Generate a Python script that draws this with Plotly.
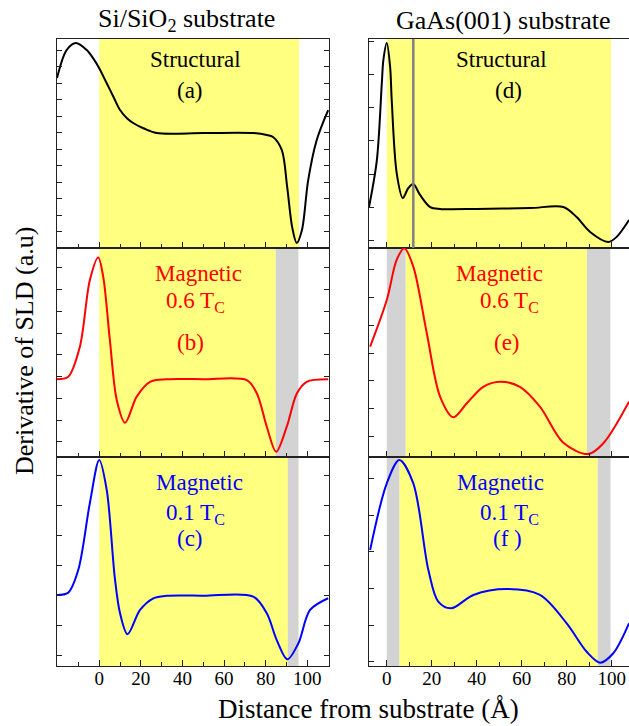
import plotly.graph_objects as go

W, H = 629, 726

# ---------------- data ----------------
xa = [-20.3, -15.7, -11.2, -6.0, -2.9, 0.0, 3.6, 6.8, 10.0, 13.3, 16.5, 21.2, 27.6, 50.0, 74.0, 80.5, 83.5, 87.7, 90.3, 92.7, 94.9, 97.4, 100.4, 104.5, 110.0]
ya = [0.813, 0.947, 0.981, 0.947, 0.907, 0.860, 0.788, 0.724, 0.660, 0.621, 0.597, 0.573, 0.550, 0.550, 0.550, 0.541, 0.531, 0.469, 0.292, 0.100, 0.024, 0.086, 0.325, 0.517, 0.660]

xd = [-7.9, -4.4, -2.2, -1.5, 0.0, 1.5, 2.2, 4.4, 7.1, 9.6, 11.8, 14.8, 19.3, 23.7, 40.0, 63.7, 78.5, 84.4, 90.4, 98.5, 102.2, 107.7]
yd = [0.196, 0.421, 0.789, 0.900, 0.981, 0.866, 0.708, 0.359, 0.239, 0.287, 0.306, 0.254, 0.196, 0.187, 0.187, 0.191, 0.196, 0.148, 0.077, 0.029, 0.053, 0.134]

xb = [-20.5, -14.9, -9.3, -4.5, -0.5, 1.9, 5.1, 8.4, 12.4, 18.0, 24.4, 32.4, 50.0, 70.9, 75.7, 80.5, 85.0, 90.1, 95.0, 99.7, 110.0]
yb = [0.372, 0.384, 0.528, 0.847, 0.955, 0.863, 0.560, 0.273, 0.164, 0.289, 0.360, 0.372, 0.372, 0.368, 0.305, 0.145, 0.025, 0.145, 0.305, 0.360, 0.372]

xe = [-7.4, 0.0, 4.4, 7.8, 11.8, 17.8, 23.7, 29.6, 35.6, 42.9, 50.4, 59.2, 68.1, 78.5, 89.6, 96.3, 107.7]
ye = [0.528, 0.751, 0.943, 0.999, 0.911, 0.592, 0.289, 0.190, 0.257, 0.336, 0.360, 0.336, 0.241, 0.068, 0.014, 0.066, 0.265]

xc = [-20.5, -14.9, -10.1, -4.5, 0.0, 3.6, 7.5, 10.0, 13.6, 19.6, 26.0, 32.4, 50.0, 74.0, 80.5, 85.3, 90.4, 95.7, 101.3, 110.0]
yc = [0.340, 0.351, 0.459, 0.780, 0.986, 0.842, 0.420, 0.252, 0.152, 0.268, 0.324, 0.336, 0.336, 0.332, 0.252, 0.124, 0.032, 0.109, 0.268, 0.324]

xf = [-7.4, 0.0, 5.6, 11.8, 18.5, 22.9, 28.6, 38.5, 53.3, 68.1, 80.0, 88.9, 94.8, 100.7, 107.7]
yf = [0.555, 0.874, 0.986, 0.874, 0.459, 0.308, 0.276, 0.340, 0.368, 0.340, 0.204, 0.068, 0.016, 0.061, 0.204]

xtick_vals = [0, 20, 40, 60, 80, 100]

# shaded layer regions (x start, x end)
yellow_regions = {
    "a": [(0.0, 96.0)], "b": [(0.0, 84.8)], "c": [(0.0, 95.7)],
    "d": [(0.0, 99.7)], "e": [(8.4, 89.0)], "f": [(5.6, 93.8)],
}
gray_regions = {
    "a": [], "b": [(84.8, 95.7)], "c": [(90.6, 95.7)],
    "d": [], "e": [(0.0, 8.4), (89.0, 99.4)], "f": [(0.0, 5.6), (93.8, 99.5)],
}
interface_line_d = 11.8

panels = [
    ("a", xa, ya, "black", 1, 0, 0),
    ("d", xd, yd, "black", 2, 1, 0),
    ("b", xb, yb, "#ff0000", 3, 0, 1),
    ("e", xe, ye, "#ff0000", 4, 1, 1),
    ("c", xc, yc, "#0000ff", 5, 0, 2),
    ("f", xf, yf, "#0000ff", 6, 1, 2),
]
ytick = {"a": (0.078, 0.079), "b": (0.073, 0.104), "c": (0.049, 0.1435),
         "d": (0.038, 0.158), "e": (0.100, 0.1325), "f": (0.0205, 0.1755)}

# ---------------- layout geometry (pixels) ----------------
col_px = [(57, 329), (369, 629)]
row_px = [(39, 248), (248, 457), (457, 666)]
xranges = [[-20.3, 110.4], [-7.9, 107.7]]

FONT = "Liberation Serif"
YELLOW = "#ffff80"
GRAY = "#d3d3d3"
AX = "#222222"

fig = go.Figure()
shapes = []
layout = {}
for key, xs, ys, color, idx, col, row in panels:
    sfx = "" if idx == 1 else str(idx)
    fig.add_trace(go.Scatter(x=xs, y=ys, mode="lines", line=dict(color=color, width=2, shape="spline", smoothing=0.9),
                             xaxis="x" + sfx, yaxis="y" + sfx, showlegend=False, hoverinfo="skip"))
    for (x0, x1) in yellow_regions[key]:
        shapes.append(dict(type="rect", xref="x" + sfx, yref="y" + sfx + " domain", x0=x0, x1=x1, y0=0, y1=1,
                           fillcolor=YELLOW, line=dict(width=0), layer="below"))
    for (x0, x1) in gray_regions[key]:
        shapes.append(dict(type="rect", xref="x" + sfx, yref="y" + sfx + " domain", x0=x0, x1=x1, y0=0, y1=1,
                           fillcolor=GRAY, line=dict(width=0), layer="below"))
    c0, c1 = col_px[col]
    r0, r1 = row_px[row]
    t0, dt = ytick[key]
    layout["xaxis" + sfx] = dict(
        domain=[c0 / W, c1 / W], range=xranges[col], anchor="y" + sfx, automargin=False,
        showline=True, linecolor=AX, linewidth=1, mirror=True,
        ticks="inside", ticklen=6, tickwidth=1.2, tickcolor=AX,
        tickmode="array", tickvals=xtick_vals,
        minor=dict(ticks="inside", ticklen=4, dtick=10, tick0=0, tickcolor=AX, tickwidth=1.2),
        showgrid=False, zeroline=False, showticklabels=(row == 2),
        tickfont=dict(family=FONT, size=19, color="black"), ticklabelstandoff=-5,
    )
    layout["yaxis" + sfx] = dict(
        domain=[1 - r1 / H, 1 - r0 / H], range=[0, 1], anchor="x" + sfx, automargin=False,
        showline=True, linecolor=AX, linewidth=1, mirror=("allticks" if col == 0 else False),
        ticks="inside", ticklen=5, tickwidth=1.2, tickcolor=AX, tick0=t0, dtick=dt,
        showgrid=False, zeroline=False, showticklabels=False,
    )

shapes.append(dict(type="line", xref="x2", yref="y2 domain", x0=interface_line_d, x1=interface_line_d, y0=0, y1=1,
                   line=dict(color="#808080", width=2.5)))

def ann(text, xpx, ypx, size, color="black", **kw):
    return dict(text=text, x=xpx / W, y=1 - ypx / H, xref="paper", yref="paper", showarrow=False,
                font=dict(family=FONT, size=size, color=color), xanchor="center", yanchor="middle", **kw)

LS = 23
annotations = [
    ann("Si/SiO<sub>2</sub> substrate", 186, 20, 26),
    ann("GaAs(001) substrate", 503, 20, 26),
    ann("Structural", 195, 60, LS), ann("(a)", 190, 90, LS),
    ann("Structural", 501, 60, LS), ann("(d)", 508, 90, LS),
    ann("Magnetic", 198, 273, LS, "#ff0000"), ann("0.6 T<sub>C</sub>", 195, 302, LS, "#ff0000"), ann("(b)", 190, 343, LS, "#ff0000"),
    ann("Magnetic", 499, 273, LS, "#ff0000"), ann("0.6 T<sub>C</sub>", 509, 302, LS, "#ff0000"), ann("(e)", 507, 343, LS, "#ff0000"),
    ann("Magnetic", 199, 482, LS, "#0000ff"), ann("0.1 T<sub>C</sub>", 195, 514, LS, "#0000ff"), ann("(c)", 190, 538, LS, "#0000ff"),
    ann("Magnetic", 500, 482, LS, "#0000ff"), ann("0.1 T<sub>C</sub>", 509, 514, LS, "#0000ff"), ann("(f )", 507, 538, LS, "#0000ff"),
    ann("Derivative of SLD (a.u)", 24, 351, 26, textangle=-90),
    ann("Distance from substrate (Å)", 368, 709, 27),
]

fig.update_layout(width=W, height=H, margin=dict(l=0, r=0, t=0, b=0), paper_bgcolor="white", plot_bgcolor="white",
                  shapes=shapes, annotations=annotations, **layout)
fig.write_html("out.html")
